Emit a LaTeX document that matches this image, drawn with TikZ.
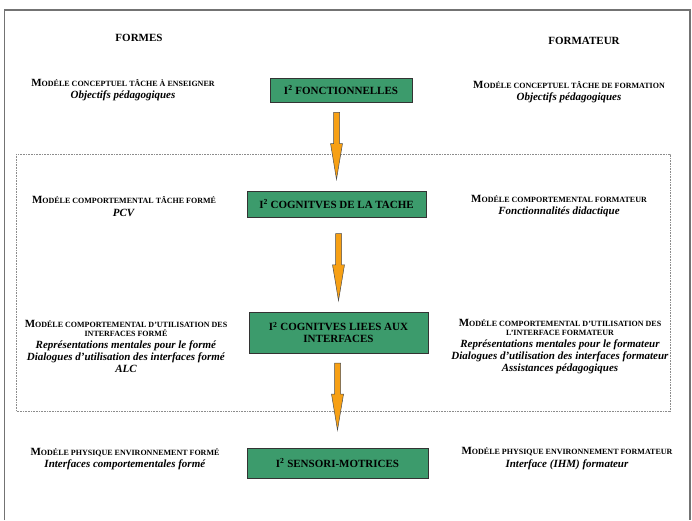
\documentclass[tikz,border=0pt]{standalone}
\usepackage{fontspec}
\setmainfont{Liberation Serif}
\usetikzlibrary{shapes.arrows}
\definecolor{boxgreen}{RGB}{60,155,108}
\definecolor{flowor}{RGB}{247,160,20}
\newcommand\capsm[1]{{\fontsize{11}{12.4}\selectfont M}{\fontsize{8}{12.4}\selectfont #1}}
\begin{document}
\begin{tikzpicture}[x=1pt, y=-1pt,
  box/.style={draw=black!80, fill=boxgreen, line width=0.8pt, inner sep=0pt, align=center, font=\bfseries\fontsize{11}{12}\selectfont},
  side/.style={inner sep=0pt, align=center, font=\bfseries\fontsize{11}{12.4}\selectfont},
  head/.style={inner sep=0pt, font=\bfseries\fontsize{11}{13}\selectfont},
  flow/.style={single arrow, draw=black!70, fill=flowor, line width=0.5pt, inner sep=2.75pt, minimum height=67pt, minimum width=11.5pt, single arrow head extend=3pt, single arrow tip angle=19, shape border rotate=270, anchor=tail}]
\useasboundingbox (0,0) rectangle (692,520);
% frames
\draw[black!55, line width=1.6pt] (4.5,520) |- (690,10) -- (690,520);
\draw[black!45, line width=0.6pt, dash pattern=on 0.8pt off 0.8pt] (16,154) rectangle (670,411);
% headings
\node[head] (hl) at (139,38) {FORMES};
\node[head] (hr) at (584,41) {FORMATEUR};
% green boxes
\node[box, minimum width=142pt, minimum height=24pt] (g1) at (341,90) {I\textsuperscript{2} FONCTIONNELLES};
\node[box, minimum width=179pt, minimum height=26pt] (g2) at (336.5,204) {I\textsuperscript{2} COGNITVES DE LA TACHE};
\node[box, minimum width=179pt, minimum height=41pt] (g3) at (338.5,332.5) {I\textsuperscript{2} COGNITVES LIEES AUX\\INTERFACES};
\node[box, minimum width=181pt, minimum height=30pt] (g4) at (337.5,463) {I\textsuperscript{2} SENSORI-MOTRICES};
\foreach \a/\b/\p in {g1/g2/0.11, g2/g3/0.17, g3/g4/0.1}
  \path (\a.south -| \b) -- node[flow, pos=\p] {} (\b.north);
% left column
\node[side] (l1) at (123,90) {\capsm{ODÉLE CONCEPTUEL TÂCHE À ENSEIGNER}\\\textit{Objectifs pédagogiques}};
\node[side] (l2) at (124,206.5) {\capsm{ODÉLE COMPORTEMENTAL TÂCHE FORMÉ}\\\textit{PCV}};
\node[side] (l3) at (126,346.6) {\capsm{ODÉLE COMPORTEMENTAL D’UTILISATION DES}\\[-3pt]{\fontsize{8}{12.4}\selectfont INTERFACES FORMÉ}\\[-1pt]\textit{Représentations mentales pour le formé}\\\textit{Dialogues d’utilisation des interfaces formé}\\\textit{ALC}};
\node[side] (l4) at (125,459) {\capsm{ODÉLE PHYSIQUE ENVIRONNEMENT FORMÉ}\\\textit{Interfaces comportementales formé}};
% right column
\node[side] (r1) at (569,92) {\capsm{ODÉLE CONCEPTUEL TÂCHE DE FORMATION}\\\textit{Objectifs pédagogiques}};
\node[side] (r2) at (559,206) {\capsm{ODÉLE COMPORTEMENTAL FORMATEUR}\\\textit{Fonctionnalités didactique}};
\node[side] (r3) at (560,346.6) {\capsm{ODÉLE COMPORTEMENTAL D’UTILISATION DES}\\[-3pt]{\fontsize{8}{12.4}\selectfont L’INTERFACE FORMATEUR}\\[-1pt]\textit{Représentations mentales pour le formateur}\\\textit{Dialogues d’utilisation des interfaces formateur}\\\textit{Assistances pédagogiques}};
\node[side] (r4) at (567,458.5) {\capsm{ODÉLE PHYSIQUE ENVIRONNEMENT FORMATEUR}\\\textit{Interface (IHM) formateur}};
\end{tikzpicture}
\end{document}
